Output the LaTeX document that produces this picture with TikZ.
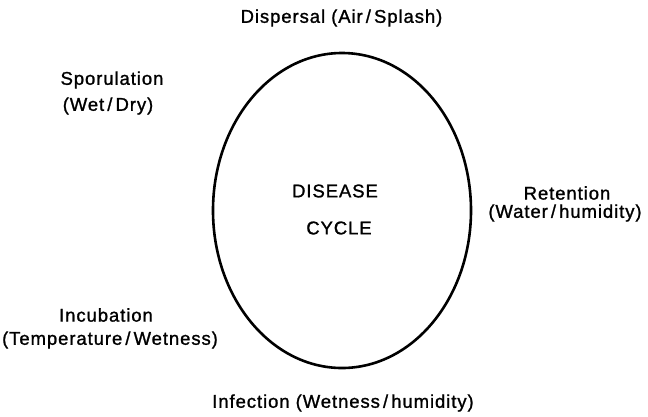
\documentclass[tikz,border=0pt]{standalone}
\usepackage{fontspec}
\setmainfont{Liberation Sans}[LetterSpace=5,FakeBold=1.2]
\begin{document}
\begin{tikzpicture}[x=1pt,y=-1pt,
  lbl/.style={font=\fontsize{18.5}{22}\selectfont, inner sep=0pt, anchor=center}]
\useasboundingbox (0,0) rectangle (648,416);
\draw[line width=2.6pt] (342,210.5) ellipse [x radius=129, y radius=157.5];
\node[lbl] (disp) at (341.5,18) {Dispersal (Air\,/\,Splash)};
\node[lbl] (spor1) at (112,80) {Sporulation};
\node[lbl] (spor2) at (108,106) {(Wet\,/\,Dry)};
\node[lbl] (ret1) at (567,193) {Retention};
\node[lbl] (ret2) at (565,213) {(Water\,/\,humidity)};
\node[lbl] (inc1) at (106,315) {Incubation};
\node[lbl] (inc2) at (110,340) {(Temperature\,/\,Wetness)};
\node[lbl] (inf) at (343,403) {Infection (Wetness\,/\,humidity)};
\node[lbl] (dis) at (335,191) {DISEASE};
\node[lbl] (cyc) at (339,228) {CYCLE};
\end{tikzpicture}
\end{document}
